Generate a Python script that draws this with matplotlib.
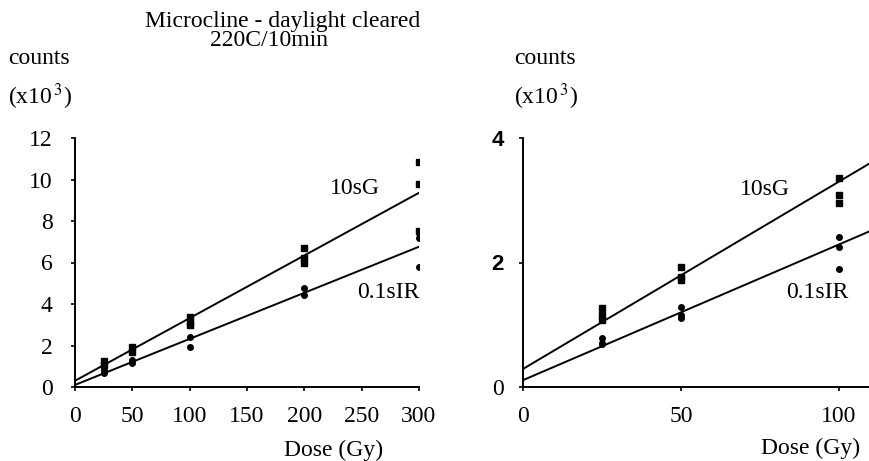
import matplotlib
matplotlib.use("Agg")
import matplotlib.pyplot as plt
import numpy as np

plt.rcParams.update({
    "font.family": "Liberation Serif",
    "mathtext.fontset": "stix",
    "font.size": 17,
})

# left panel: dose (Gy) vs counts (x10^3)
dose_l = [25, 25, 50, 50, 100, 100, 100, 200, 200, 200, 300, 300, 300]
g_l = [1.25, 1.06, 1.93, 1.70, 3.37, 3.13, 2.99, 6.70, 6.20, 6.00, 10.85, 9.80, 7.50]
dose_l_ir = [25, 25, 50, 50, 100, 100, 200, 200, 300, 300, 300]
ir_l = [0.82, 0.67, 1.30, 1.16, 2.41, 1.93, 4.77, 4.43, 7.40, 7.20, 5.78]
fit_l = {"10sG": (0.30, 0.0302), "0.1sIR": (0.10, 0.0222)}  # intercept, slope

# right panel
dose_r = [25, 25, 25, 50, 50, 50, 100, 100, 100]
g_r = [1.27, 1.16, 1.08, 1.93, 1.77, 1.72, 3.35, 3.08, 2.95]
ir_r = [0.79, 0.71, 0.69, 1.29, 1.16, 1.11, 2.41, 2.25, 1.90]
fit_r = {"10sG": (0.29, 0.0301), "0.1sIR": (0.11, 0.0218)}

W, H = 869, 461
fig = plt.figure(figsize=(W / 100, H / 100), dpi=100)


def box(x0, x1, ytop, ybot):
    return [x0 / W, 1 - ybot / H, (x1 - x0) / W, (ybot - ytop) / H]


ax1 = fig.add_axes(box(75, 419, 138, 387))
ax2 = fig.add_axes(box(523, 869, 138, 387))

for ax in (ax1, ax2):
    for s in ("top", "right"):
        ax.spines[s].set_visible(False)
    ax.spines["left"].set_linewidth(1.4)
    ax.spines["bottom"].set_linewidth(1.4)
    ax.tick_params(direction="out", length=3, width=1.2, labelsize=17)
    ax.tick_params(axis="x", pad=11)
    ax.set_facecolor("none")

# left
ax1.set_xlim(0, 300)
ax1.set_ylim(0, 12)
ax1.set_xticks(range(0, 301, 50))
ax1.set_yticks(range(0, 13, 2))
ax1.tick_params(axis="y", pad=13)
ax1.plot(dose_l, g_l, "s", color="black", ms=4)
ax1.plot(dose_l_ir, ir_l, "o", color="black", ms=4)
xl = np.array([0, 300])
for name, (b, m) in fit_l.items():
    ax1.plot(xl, b + m * xl, color="black", lw=1.4)

# right
xmax_r = 100 * (869 - 523) / (839 - 523)
ax2.set_xlim(0, xmax_r)
ax2.set_ylim(0, 4)
ax2.set_xticks([0, 50, 100])
ax2.set_yticks([0, 2, 4])
ax2.tick_params(axis="y", pad=11)
ax2.plot(dose_r, g_r, "s", color="black", ms=4)
ax2.plot(dose_r, ir_r, "o", color="black", ms=4)
xr = np.array([0, xmax_r])
for name, (b, m) in fit_r.items():
    ax2.plot(xr, b + m * xr, color="black", lw=1.4)
for lbl in ax2.get_yticklabels()[1:]:
    lbl.set_fontfamily("Liberation Sans")
    lbl.set_fontweight("bold")
    lbl.set_fontsize(16)


def ftext(x, y, s, **kw):
    fig.text(x / W, 1 - y / H, s, **kw)


ftext(283, 21, "Microcline - daylight cleared", ha="center", va="center")
ftext(269, 40, "220C/10min", ha="center", va="center")
for x0 in (8, 514):
    ftext(x0, 59, "counts", ha="left", va="center")
    ftext(x0, 97, "(x10$^{\\,3}$)", ha="left", va="center")

ftext(330, 188, "10sG", ha="left", va="center")
ftext(357, 292, "0.1sIR", ha="left", va="center")
ftext(740, 189, "10sG", ha="left", va="center")
ftext(786, 292, "0.1sIR", ha="left", va="center")
ftext(334, 450, "Dose (Gy)", ha="center", va="center")
ftext(811, 448, "Dose (Gy)", ha="center", va="center")

fig.savefig("out.png", dpi=100)
